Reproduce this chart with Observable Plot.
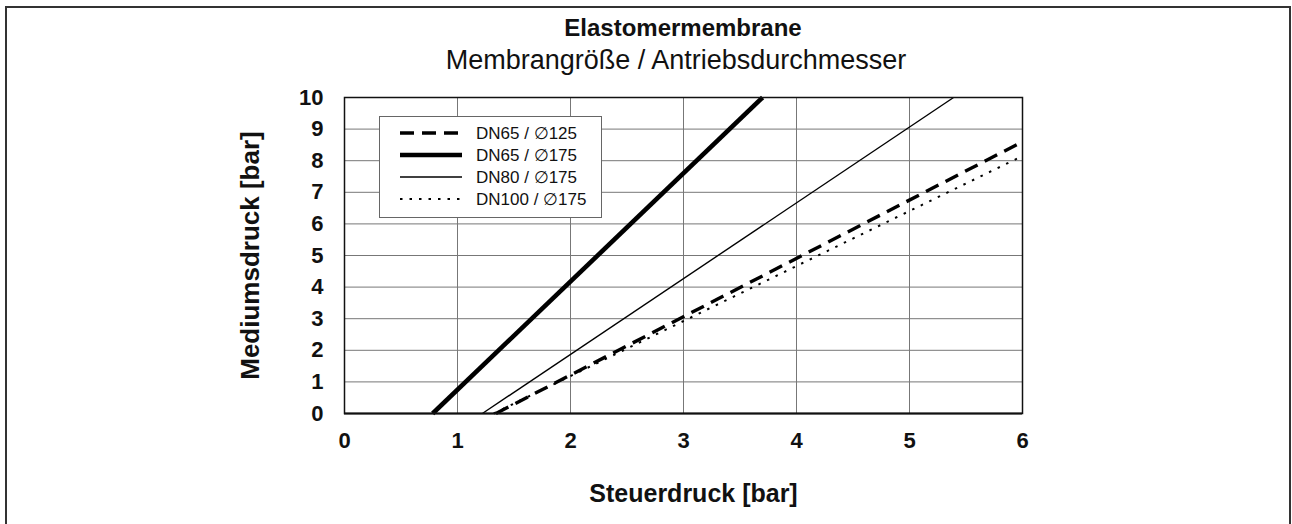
<!DOCTYPE html>
<html><head><meta charset="utf-8">
<script src="https://cdn.jsdelivr.net/npm/d3@7"></script>
<script src="https://cdn.jsdelivr.net/npm/@observablehq/plot@0.6"></script>
<style>
body{margin:0;background:#fff;font-family:"Liberation Sans",Arial,sans-serif;}
#wrap{position:relative;width:1292px;height:524px;overflow:hidden;}
#border{position:absolute;left:5px;top:6px;width:1286px;height:530px;border:2px solid #333;box-sizing:border-box;}
.t{position:absolute;width:800px;text-align:center;color:#111;white-space:nowrap;line-height:1;}
#title{left:283px;top:16px;font-size:24px;font-weight:bold;}
#subtitle{left:276px;top:47px;font-size:27px;}
#legend{position:absolute;left:379px;top:116px;width:223px;height:102px;border:1px solid #666;background:#fff;box-sizing:border-box;}
.row{position:absolute;left:0;height:22px;display:flex;align-items:center;font-size:17px;color:#111;}
.row svg{margin-left:20px;margin-right:14px;}
</style></head>
<body>
<div id="wrap">
  <div id="plot"></div>
  <div id="border"></div>
  <div class="t" id="title">Elastomermembrane</div>
  <div class="t" id="subtitle">Membrangröße / Antriebsdurchmesser</div>
  <div id="legend"></div>
</div>
<script>
const seriesNames = ["DN65 / ∅125", "DN65 / ∅175", "DN80 / ∅175", "DN100 / ∅175"];
const startX = [1.34, 0.78, 1.22, 1.32];
const startY = [0, 0, 0, 0];
const endX = [6, 3.70, 5.39, 6];
const endY = [8.6, 10, 10, 8.15];
const xTicks = [0, 1, 2, 3, 4, 5, 6];
const yTicks = [0, 1, 2, 3, 4, 5, 6, 7, 8, 9, 10];
const xLabel = "Steuerdruck [bar]";
const yLabel = "Mediumsdruck [bar]";

const styles = [
  {strokeWidth: 3.4, strokeDasharray: "14,8"},
  {strokeWidth: 4.6, strokeDasharray: null},
  {strokeWidth: 1.4, strokeDasharray: null},
  {strokeWidth: 2, strokeDasharray: "2.5,7"}
];

const data = seriesNames.flatMap((s, i) => [
  {series: s, x: startX[i], y: startY[i]},
  {series: s, x: endX[i], y: endY[i]}
]);

const lineMarks = seriesNames.map((s, i) =>
  Plot.line(data.filter(d => d.series === s), {x: "x", y: "y", stroke: "#000",
    strokeWidth: styles[i].strokeWidth, strokeDasharray: styles[i].strokeDasharray, strokeLinecap: "butt"}));

const chart = Plot.plot({
  width: 1292, height: 524,
  marginLeft: 344, marginRight: 270, marginTop: 97, marginBottom: 111,
  x: {domain: [0, 6]},
  y: {domain: [0, 10]},
  style: {fontFamily: "Liberation Sans, Arial, sans-serif", fontSize: "22px", fontWeight: "bold", color: "#111", background: "#fff"},
  marks: [
    Plot.gridX(xTicks.slice(1, -1), {stroke: "#777", strokeOpacity: 1, strokeWidth: 1}),
    Plot.gridY(yTicks.slice(1, -1), {stroke: "#777", strokeOpacity: 1, strokeWidth: 1}),
    ...lineMarks,
    Plot.frame({stroke: "#111", strokeWidth: 1.5}),
    Plot.ruleY([0], {stroke: "#111", strokeWidth: 2}),
    Plot.axisX(xTicks, {tickSize: 0, tickPadding: 19, label: null, fontSize: 22, fontWeight: "bold"}),
    Plot.axisY(yTicks, {tickSize: 0, tickPadding: 21, label: null, fontSize: 22, fontWeight: "bold"}),
    Plot.text([xLabel], {frameAnchor: "bottom", dx: 10, dy: 88, fontSize: 25, fontWeight: "bold", fill: "#111"}),
    Plot.text([yLabel], {frameAnchor: "left", textAnchor: "middle", dx: -94, rotate: -90, fontSize: 26, fontWeight: "bold", fill: "#111"})
  ]
});
document.getElementById("plot").appendChild(chart);

const legend = document.getElementById("legend");
seriesNames.forEach((s, i) => {
  const row = document.createElement("div");
  row.className = "row";
  row.style.top = (5 + i * 22) + "px";
  const st = styles[i];
  row.innerHTML = `<svg width="62" height="10"><line x1="0" x2="62" y1="5" y2="5" stroke="#000" stroke-width="${st.strokeWidth}" ${st.strokeDasharray ? `stroke-dasharray="${st.strokeDasharray}"` : ""}/></svg><span>${s}</span>`;
  legend.appendChild(row);
});
</script>
</body></html>
